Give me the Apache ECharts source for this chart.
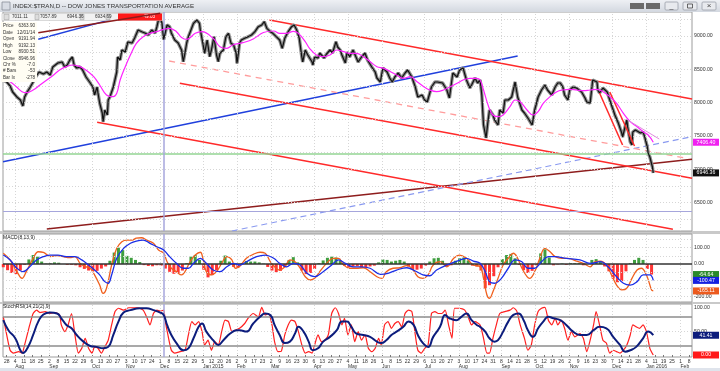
<!DOCTYPE html>
<html><head><meta charset="utf-8">
<script src="https://cdn.jsdelivr.net/npm/echarts@6/dist/echarts.min.js"></script>
<style>html,body{margin:0;padding:0;background:#fff}#c{width:720px;height:371px}</style>
</head><body><div id="c"></div>
<script>
// ---------- tick labels (x in weeks from Mon 28 Jul 2014) ----------
const weekLabels = ['28','4','11','18','25','2','8','15','22','29','6','13','20','27','3','10','17','24','1','8','15','22','29','5','12','20','26','2','9','17','23','2','9','16','23','30','6','13','20','27','4','11','18','26','1','8','15','22','29','6','13','20','27','3','10','17','24','31','8','14','21','28','5','12','19','26','2','9','16','23','30','7','14','21','28','4','11','19','25','1','8'];
const monthWeeks = [1,5,10,14,18,23,27,31,36,40,44,49,53,58,62,66,71,75,79];
const monthNames = ['Aug','Sep','Oct','Nov','Dec','Jan 2015','Feb','Mar','Apr','May','Jun','Jul','Aug','Sep','Oct','Nov','Dec','Jan 2016','Feb'];
const priceTicks = [6500,7000,7500,8000,8500,9000];
const priceGridLevels = [6250,6500,6750,7000,7250,7500,7750,8000,8250,8500,8750,9000,9250];
const macdTicks = [100,0,-100,-200];
const macdGridLevels = [150,100,50,-50,-100,-150,-200];
const stochTicks = [100,50,0];

// ---------- price (week, value) ----------
const price2014 = [[-0.4,8340],[-0.2,8370],[0.0,8310],[0.4,8250],[0.7,8160],[1.2,8085],[1.6,8040],[1.9,7950],[2.1,8085],[2.4,8160],[2.7,8220],[3.1,8310],[3.3,8370],[3.8,8460],[4.3,8430],[4.7,8460],[5.1,8415],[5.4,8535],[5.7,8565],[6.0,8595],[6.5,8610],[6.8,8535],[7.1,8565],[7.4,8640],[7.7,8685],[7.9,8565],[8.2,8520],[8.6,8535],[8.9,8490],[9.3,8385],[9.5,8415],[9.8,8295],[10.1,8235],[10.3,8115],[10.6,8235],[10.7,8145],[10.9,7995],[11.2,7845],[11.3,7715],[11.5,7890],[11.8,7815],[11.9,8040],[12.1,8085],[12.5,8235],[12.9,8460],[13.0,8685],[13.3,8640],[13.5,8790],[13.9,8760],[14.2,8910],[14.7,8895],[15.0,8970],[15.4,9090],[15.9,9060],[16.2,9045],[16.6,9015],[17.0,9090],[17.4,9045],[17.6,9135],[17.9,9300],[18.2,9195],[18.4,8947],[18.8,9165],[19.1,9140],[19.3,9045],[19.7,8940],[20.1,8895],[20.5,8790],[20.7,8615],[20.9,8745],[21.1,8895],[21.3,8990],[21.6,9090],[21.9,9190],[22.3,9240],[22.6,9190]];
const price2015a = [[22.7,9090],[23.0,8890],[23.2,8740],[23.5,8940],[23.8,8690],[24.0,8790],[24.3,8990],[24.6,8715],[24.8,8615],[25.0,8740],[25.4,8790],[25.7,8990],[26.0,9040],[26.3,8890],[26.6,8865],[26.9,8740],[27.0,8590],[27.3,8890],[27.5,8940],[27.9,8965],[28.3,8990],[28.7,9015],[29.1,9065],[29.5,9140],[29.9,9165],[30.2,9215],[30.5,9115],[30.9,9065],[31.2,9040],[31.6,8990],[32.0,8940],[32.3,8815],[32.6,8965],[33.0,9065],[33.4,9140],[33.7,9165],[34.0,9090],[34.3,8965],[34.6,8685],[34.7,8610],[35.0,8790],[35.3,8715],[35.8,8610],[35.9,8565],[36.1,8685],[36.5,8670],[36.7,8745],[37.2,8670],[37.5,8730],[37.9,8790],[38.2,8745],[38.6,8915],[38.8,8835],[39.1,8790],[39.3,8715],[39.7,8595],[39.9,8760],[40.2,8685],[40.6,8790],[40.8,8790],[41.2,8610],[41.6,8685],[42.0,8745],[42.3,8640],[42.8,8535],[43.2,8460],[43.4,8370],[43.8,8310],[44.1,8520],[44.6,8460],[44.9,8370],[45.2,8310],[45.5,8385],[45.9,8445],[46.3,8370],[46.7,8445],[47.0,8490],[47.5,8385],[47.9,8235],[48.2,8085],[48.7,8115],[49.0,8040],[49.3,8010],[49.4,7995],[49.8,8235],[50.2,8310],[50.5,8310],[51.1,8295],[51.6,8190],[51.9,8070],[52.3,8445],[52.8,8385],[53.1,8490],[53.5,8520],[53.9,8340],[54.3,8220],[54.5,8265],[54.9,8370],[55.2,8295],[55.5,8340]];
const price2015b = [[55.7,8115],[55.9,7665],[56.2,7470],[56.4,7695],[56.6,7890],[57.0,7815],[57.2,7740],[57.6,7665],[57.8,7890],[58.2,7845],[58.4,8040],[58.8,8040],[59.2,8085],[59.6,8310],[59.9,8085],[60.4,7890],[60.7,7845],[61.1,7770],[61.6,7665],[61.9,7890],[62.3,8085],[62.7,8190],[63.1,8265],[63.4,8190],[63.9,8115],[64.3,8235],[64.6,8295],[64.9,8295],[65.2,8235],[65.4,8115],[65.8,8040],[66.0,8190],[66.4,8235],[66.8,8220],[67.4,8160],[67.8,8070],[68.0,8010],[68.4,7995],[68.7,8340],[69.2,8310],[69.3,8190],[69.5,8145],[69.9,8220],[70.4,8160],[70.7,8040],[71.1,7890],[71.3,7815],[71.7,7695],[72.1,7545],[72.2,7485],[72.7,7740],[72.8,7635],[73.1,7410],[73.3,7365],[73.4,7560],[73.7,7590],[73.9,7620],[74.3,7545],[74.6,7560],[74.8,7485],[75.1,7335],[75.2,7245],[75.4,7185],[75.7,7035],[75.8,6946.36]];
const movingAvg = [[-0.4,8350],[0.4,8315],[1.2,8230],[1.8,8165],[2.3,8150],[3.1,8190],[3.9,8265],[4.7,8340],[5.5,8415],[6.2,8490],[7.0,8540],[7.8,8565],[8.6,8540],[9.4,8480],[10.2,8390],[10.9,8265],[11.7,8115],[12.5,8090],[12.9,8140],[13.3,8340],[13.9,8540],[14.5,8715],[15.2,8890],[16.0,8990],[16.8,9040],[17.6,9065],[18.4,9100],[19.1,9115],[19.9,9065],[20.5,8978],[21.1,8948],[22.1,9040],[22.9,9065],[24.2,8965],[25.0,8840],[25.8,8815],[26.5,8865],[27.7,8900],[28.9,8955],[30.1,9052],[31.3,9075],[32.0,9040],[32.8,9040],[33.6,9068],[34.2,9040],[35.0,8915],[35.5,8815],[36.3,8715],[37.1,8690],[37.9,8715],[38.7,8790],[39.5,8765],[40.2,8740],[41.0,8740],[41.8,8690],[42.6,8615],[43.4,8540],[44.2,8515],[45.0,8465],[45.7,8415],[46.5,8365],[47.3,8390],[48.1,8315],[48.9,8240],[49.6,8190],[50.4,8165],[51.2,8190],[52.0,8240],[52.8,8290],[53.5,8340],[54.3,8365],[55.1,8365],[55.5,8340],[55.9,8190],[56.5,7940],[57.0,7815],[57.6,7790],[58.2,7815],[59.0,7940],[59.6,8040],[60.2,8015],[61.0,7890],[61.7,7815],[62.3,7865],[62.9,7990],[63.7,8090],[64.5,8165],[65.2,8190],[66.0,8200],[66.8,8190],[67.6,8180],[68.4,8190],[69.2,8200],[69.9,8165],[70.7,8090],[71.5,7990],[72.3,7840],[73.1,7715],[73.9,7640],[74.6,7565],[75.2,7515],[75.8,7406.40]];

// ---------- trend lines drawn on the chart (week, price) ----------
const lineRedTop = [[30.8,9240],[80.34,8055]];
const lineRedMid = [[20.3,8290],[80.34,6865]];
const lineRedLow = [[10.6,7705],[78.1,6100]];
const lineRedDash = [[19.05,8625],[79.7,7165]];
const lineRedShortA = [[69.5,8145],[72.2,7365]];
const lineRedShortB = [[70.7,8160],[73.6,7350]];
const linePink = [[72.8,7740],[76.5,7455]];
const lineBlue = [[-0.434,7115],[59.9,8700]];
const lineBlueDash = [[26.4,6075],[80.34,7490]];
const lineBrown = [[4.7,6105],[80.34,7150]];
const lineBrownTop = [[3.7,9050],[18.0,9340]];
const lineBlueTop = [[3.7,8950],[12.3,9249]];
const levelGreen = 7230;
const cursorPrice = 6363.90;
const cursorWeek = 18.4;

// ---------- MACD(8,13,9) ----------
const macdLine = [[-0.4,66],[0.4,25],[1.2,-47],[1.8,-88],[2.3,-47],[3.1,35],[3.7,75],[4.3,72],[5.1,45],[5.9,51],[6.6,45],[7.4,39],[8.0,45],[8.6,4],[9.2,-16],[9.8,-26],[10.3,-67],[10.9,-129],[11.3,-180],[11.7,-149],[12.3,-6],[12.9,96],[13.5,137],[14.1,147],[14.7,147],[15.2,158],[15.8,161],[16.4,147],[17.2,127],[17.8,86],[18.4,66],[18.8,14],[19.3,-26],[19.9,-47],[20.5,-67],[20.9,-47],[21.5,14],[22.1,55],[22.7,72],[23.0,35],[23.4,-47],[24.0,-67],[24.6,-47],[25.2,4],[25.8,45],[26.4,25],[26.8,-26],[27.3,-15],[28.1,35],[28.9,59],[29.7,72],[30.3,66],[30.9,14],[31.4,-17],[32.0,-37],[32.6,-17],[33.2,25],[33.8,14],[34.4,-26],[35.0,-78],[35.6,-98],[36.1,-88],[36.7,-47],[37.5,4],[38.3,35],[38.9,35],[39.5,-6],[40.2,-26],[41.0,-26],[41.8,-23],[42.6,-47],[43.4,-78],[44.0,-88],[44.5,-47],[45.3,-26],[46.1,-23],[46.9,-10],[47.5,-26],[48.2,-78],[48.8,-88],[49.4,-67],[50.0,-6],[50.8,14],[51.6,-17],[52.4,35],[53.1,55],[53.9,35],[54.7,-6],[55.5,-17],[55.9,-88],[56.3,-190],[56.6,-210],[57.0,-170],[57.6,-88],[58.2,-6],[58.8,35],[59.4,66],[59.8,45],[60.4,-26],[61.0,-78],[61.3,-88],[61.9,-47],[62.5,35],[63.1,96],[63.7,75],[64.3,45],[65.1,35],[65.8,35],[66.8,18],[67.6,4],[68.4,-17],[69.0,14],[69.6,18],[70.3,-6],[70.9,-67],[71.5,-129],[72.1,-159],[72.7,-149],[73.3,-88],[73.9,-37],[74.4,-26],[75.0,-67],[75.6,-159],[75.8,-165.11]];
const signalLine = [[-0.4,55],[0.4,25],[1.2,-26],[1.9,-47],[2.7,-17],[3.5,25],[4.3,45],[5.1,55],[6.0,55],[7.0,45],[8.0,45],[8.8,25],[9.6,-6],[10.3,-37],[10.9,-67],[11.5,-108],[11.9,-118],[12.3,-67],[12.9,35],[13.7,96],[14.5,127],[15.2,141],[16.0,147],[16.8,127],[17.6,106],[18.4,86],[19.1,45],[19.9,4],[20.7,-26],[21.3,-26],[21.9,4],[22.7,35],[23.4,4],[24.2,-37],[25.0,-47],[25.8,-17],[26.6,4],[27.3,-6],[28.1,14],[29.3,45],[30.3,55],[31.3,35],[32.0,4],[32.8,-17],[33.6,4],[34.4,-6],[35.2,-57],[36.1,-78],[37.1,-47],[38.1,-6],[38.9,25],[39.7,4],[40.6,-17],[41.6,-17],[42.6,-26],[43.8,-63],[44.7,-57],[45.7,-37],[46.9,-23],[47.9,-43],[48.8,-67],[49.6,-72],[50.4,-37],[51.6,-6],[52.8,18],[53.9,35],[54.7,18],[55.5,4],[56.1,-47],[56.6,-108],[57.2,-118],[58.0,-88],[58.8,-26],[59.6,25],[60.4,14],[61.1,-26],[61.9,-26],[62.7,14],[63.5,45],[64.3,45],[65.6,35],[67.2,25],[68.4,4],[69.6,14],[70.5,-17],[71.5,-78],[72.3,-118],[73.1,-129],[73.9,-108],[74.6,-67],[75.4,-67],[75.8,-100.47]];
// histogram sampled every half week starting at week -0.4
const histStart = -0.4, histStep = 0.5;
const macdHist = [-20,-38,-55,-62,-40,-5,28,55,45,15, 3,5,10,8,0,-5,-5,-8,-20,-30, -40,-45,-42,-28,-15,20,70,100,85,50, 38,25,12,-7,-12,-14,-8,-10,-28,-48, -60,-55,-40,5,45,55,25,-35,-82,-68, -38,20,52,15,-18,-22,5,18,15,15, 10,2,-18,-40,-50,-42,-20,25,42,10, -40,-62,-55,-30,5,22,38,45,40,20, -10,-20,-15,-12,-22,-22,-15,-10,10,28, 25,15,20,25,15,-15,-32,-35,-28,-10, 15,35,38,20,-15,-8,20,35,40,22, -10,-15,-40,-150,-130,-75,-20,30,55,62, 35,-5,-38,-55,-42,-5,65,90,40,-8, -3,3,-5,5,5,5,-8,0,25,30, 12,-15,-45,-90,-112,-105,-45,5,25,38, 25,-30,-64.64];

// ---------- StochRSI(14,21(2),9) ----------
const stochK = [[-0.4,80],[0.0,42],[0.4,10],[0.8,4],[1.4,7],[1.8,4],[2.1,21],[2.7,63],[3.1,87],[3.5,94],[3.9,89],[4.5,91],[5.1,87],[5.7,89],[6.2,84],[6.4,63],[6.8,49],[7.2,63],[7.6,87],[8.0,42],[8.4,4],[8.8,14],[9.2,35],[9.6,14],[10.0,4],[10.3,17],[10.7,14],[11.1,4],[11.5,17],[11.9,31],[12.3,63],[12.7,91],[13.1,98],[13.7,94],[14.3,99],[14.8,99],[15.4,99],[16.0,94],[16.4,80],[16.8,63],[17.2,87],[17.6,94],[18.0,92],[18.4,94],[18.6,70],[18.9,42],[19.3,10],[19.7,4],[20.3,7],[20.9,10],[21.3,42],[21.7,70],[22.1,63],[22.5,70],[22.9,49],[23.2,21],[23.6,31],[24.0,10],[24.4,28],[24.8,21],[25.2,49],[25.6,73],[26.0,70],[26.4,49],[26.8,52],[27.3,56],[27.9,66],[28.3,77],[28.9,87],[29.5,80],[29.9,100],[30.3,84],[30.7,87],[31.1,63],[31.4,28],[31.8,7],[32.2,8],[32.6,42],[33.0,63],[33.4,73],[33.8,70],[34.2,49],[34.6,21],[35.0,4],[35.4,7],[35.8,4],[36.1,21],[36.5,42],[36.9,28],[37.3,31],[37.7,42],[38.1,87],[38.5,99],[38.9,87],[39.3,63],[39.6,77],[40.0,42],[40.4,63],[40.8,28],[41.2,49],[41.6,31],[42.0,42],[42.4,14],[42.8,7],[43.2,14],[43.6,35],[43.9,21],[44.3,63],[44.7,70],[45.1,56],[45.5,66],[45.9,70],[46.3,59],[46.7,87],[47.1,94],[47.5,91],[47.9,42],[48.2,10],[48.6,4],[49.0,14],[49.4,21],[49.8,87],[50.2,91],[50.6,87],[51.0,87],[51.4,94],[51.8,63],[52.2,35],[52.5,98],[53.1,98],[53.7,94],[54.1,80],[54.5,63],[54.9,70],[55.5,63],[55.9,35],[56.3,4],[56.6,4],[57.0,35],[57.4,63],[57.8,87],[58.4,91],[59.0,94],[59.4,99],[59.8,92],[60.2,63],[60.7,35],[61.1,10],[61.5,21],[61.9,63],[62.3,91],[62.7,98],[63.1,100],[63.5,73],[63.9,63],[64.3,77],[64.6,63],[65.0,73],[65.4,56],[65.8,31],[66.2,49],[66.6,38],[67.2,45],[67.6,35],[68.0,7],[68.4,31],[68.8,63],[69.1,91],[69.5,63],[69.9,31],[70.3,25],[70.7,4],[71.1,10],[71.5,7],[71.9,4],[72.3,10],[72.7,21],[73.1,42],[73.4,63],[73.8,59],[74.2,56],[74.6,63],[75.0,49],[75.4,14],[75.8,0]];
const stochD = [[-0.4,73],[0.2,52],[1.0,35],[1.6,10],[1.9,4],[2.5,17],[3.1,42],[3.7,70],[4.3,85],[5.1,89],[5.9,87],[6.4,77],[7.0,63],[7.6,56],[8.2,42],[9.0,28],[9.8,19],[10.5,17],[11.3,14],[11.9,17],[12.5,42],[13.1,70],[13.7,89],[14.5,94],[15.6,98],[16.4,98],[17.2,94],[18.0,89],[18.4,84],[18.8,63],[19.3,42],[19.9,25],[20.7,10],[21.3,14],[21.9,35],[22.5,59],[22.9,66],[23.4,49],[24.2,31],[24.8,21],[25.4,31],[26.2,45],[27.0,52],[27.3,52],[28.1,49],[28.9,66],[29.7,80],[30.3,87],[30.9,84],[31.4,63],[32.0,42],[32.6,25],[33.2,28],[33.8,45],[34.2,59],[34.8,49],[35.4,28],[35.9,10],[36.5,14],[37.1,28],[37.9,38],[38.7,52],[39.3,70],[39.9,70],[40.4,59],[41.0,45],[41.8,42],[42.6,38],[43.4,28],[43.9,25],[44.5,31],[45.1,42],[45.7,49],[46.5,59],[47.1,70],[47.7,63],[48.2,42],[48.8,25],[49.4,17],[50.0,38],[50.8,59],[51.4,84],[51.9,77],[52.7,73],[53.3,80],[53.9,87],[54.5,73],[55.1,63],[55.5,59],[56.1,49],[56.6,35],[57.2,28],[57.6,31],[58.2,49],[58.8,70],[59.4,84],[60.0,87],[60.6,73],[61.1,52],[61.7,38],[62.3,56],[62.9,70],[63.5,80],[64.1,77],[64.9,73],[65.6,63],[66.4,49],[67.2,42],[68.0,42],[68.8,52],[69.5,59],[70.3,56],[71.1,38],[71.9,21],[72.5,7],[73.1,10],[73.8,17],[74.6,35],[75.2,49],[75.8,41.41]];

// ---------- text ----------
const titleText = 'INDEX:$TRAN,D -- DOW JONES TRANSPORTATION AVERAGE';
const infoLabels = ['Price','Date','Open','High','Low','Close','Chr %','# Bars','Bar Ix'];
const infoValues = ['6363.90','12/01/14','9191.94','9192.13','8930.51','8946.96','-7.0','-53','-278'];
const toolbarValues = ['7011.11','7057.89','6946.36','6934.69'];
const toolbarChange = '-49.03';

// ================= chart =================
const FONT = 'Liberation Sans, Arial, sans-serif';
const X_MIN = -0.434, X_MAX = 80.34;
const chart = echarts.init(document.getElementById('c'), null, {renderer:'canvas'});

function xAx(gi, extra) {
  return Object.assign({type:'value', gridIndex:gi, min:X_MIN, max:X_MAX, position:'bottom',
    axisLine:{show:false}, axisTick:{show:false}, splitLine:{show:false}, axisLabel:{show:false}}, extra||{});
}
function yAx(gi, min, max, ticks) {
  return {type:'value', gridIndex:gi, min:min, max:max, position:'right',
    axisLine:{show:false}, axisTick:{show:false}, splitLine:{show:false},
    axisLabel:{show:true, customValues:ticks, formatter:v=>Number(v).toFixed(2), fontSize:5.2, color:'#333', margin:2, fontFamily:FONT}};
}
function seg(pts, xi, color, width, type, z) {
  return {type:'line', xAxisIndex:xi, yAxisIndex:xi, data:pts, symbol:'none', silent:true, z:z||3,
    lineStyle:{color:color, width:width, type:type||'solid'}};
}
function guide(xi, items, z) {
  return {type:'line', xAxisIndex:xi, yAxisIndex:xi, data:[], silent:true, z:z,
    markLine:{silent:true, symbol:['none','none'], animation:false, label:{show:false}, data:items}};
}
const dotted = {color:'#d6d6d6', width:1, type:[1,2]};
function vGrid() { return monthWeeks.map(w=>({xAxis:w, lineStyle:dotted})); }
function boxes(xi, items) {
  return {type:'line', xAxisIndex:xi, yAxisIndex:xi, data:[], silent:true, z:20,
    markPoint:{animation:false, silent:true, data:items.map(it=>({
      coord:[X_MAX, it[0]], name:it[1], symbol:'rect', symbolSize:[26,7], symbolOffset:[14,0],
      itemStyle:{color:it[2]},
      label:{show:true, position:'inside', formatter:'{b}', color:'#fff', fontSize:5.2, fontFamily:FONT}}))}};
}
const cursorStyle = {color:'#a6a6dc', width:1.5, type:'solid'};

const histData = macdHist.map((v,i)=>[histStart + histStep*i, v]);

const small = 4.6;
const graphic = [
  {type:'rect', shape:{x:0,y:0,width:720,height:12}, z:100,
    style:{fill:new echarts.graphic.LinearGradient(0,0,0,1,[{offset:0,color:'#eef0f4'},{offset:1,color:'#d3d8e0'}])}},
  {type:'rect', shape:{x:2,y:2,width:8,height:8}, z:101, style:{fill:'#d8dce4', stroke:'#8a8f99', lineWidth:0.8}},
  {type:'text', x:13, y:6.5, z:101, style:{text:titleText, fontSize:6.2, fill:'#333', fontFamily:FONT, verticalAlign:'middle'}},
  {type:'rect', shape:{x:630,y:3,width:14,height:6}, z:101, style:{fill:'#6a6a6a'}},
  {type:'rect', shape:{x:646,y:3,width:14,height:6}, z:101, style:{fill:'#6a6a6a'}},
  {type:'rect', shape:{x:665,y:2,width:13,height:8,r:1}, z:101, style:{fill:'#e8eaee', stroke:'#9aa0a8', lineWidth:0.8}},
  {type:'rect', shape:{x:683,y:2,width:14,height:8,r:1}, z:101, style:{fill:'#e8eaee', stroke:'#9aa0a8', lineWidth:0.8}},
  {type:'rect', shape:{x:702,y:2,width:14,height:8,r:1}, z:101, style:{fill:'#e8eaee', stroke:'#9aa0a8', lineWidth:0.8}},
  {type:'text', x:671.5, y:6, z:102, style:{text:'_', fontSize:7, fill:'#444', align:'center', verticalAlign:'middle', fontFamily:FONT}},
  {type:'rect', shape:{x:687.5,y:4,width:5,height:4}, z:102, style:{fill:'none', stroke:'#444', lineWidth:0.8}},
  {type:'text', x:709, y:6, z:102, style:{text:'×', fontSize:8, fill:'#444', align:'center', verticalAlign:'middle', fontFamily:FONT}},
  // panel separators and bottom strip
  {type:'rect', shape:{x:0,y:231,width:720,height:3}, z:-1, style:{fill:'#c9c9c9'}},
  {type:'rect', shape:{x:0,y:302,width:720,height:2}, z:-1, style:{fill:'#c9c9c9'}},
  {type:'rect', shape:{x:0,y:368,width:720,height:3}, z:-1, style:{fill:'#dfe4ec'}},
  // toolbar
  {type:'rect', shape:{x:2,y:13.5,width:161,height:7}, z:100, style:{fill:'#f2f2f2', stroke:'#c4c4c4', lineWidth:0.6}},
  {type:'rect', shape:{x:4,y:14.3,width:5,height:5.4}, z:101, style:{fill:'#ddd', stroke:'#999', lineWidth:0.5}},
  {type:'rect', shape:{x:35,y:14.3,width:4,height:5.4}, z:101, style:{fill:'#ddd', stroke:'#999', lineWidth:0.5}},
  {type:'rect', shape:{x:80,y:14.3,width:4,height:5.4}, z:101, style:{fill:'#ddd', stroke:'#999', lineWidth:0.5}},
  {type:'rect', shape:{x:106,y:14.3,width:4,height:5.4}, z:101, style:{fill:'#ddd', stroke:'#999', lineWidth:0.5}},
  {type:'rect', shape:{x:118,y:13.5,width:44,height:7}, z:101, style:{fill:'#ff1a1a'}},
  {type:'text', x:155, y:17.2, z:102, style:{text:toolbarChange, fontSize:small, fill:'#fff', align:'right', verticalAlign:'middle', fontFamily:FONT}},
  // info box
  {type:'rect', shape:{x:1,y:22,width:36,height:60}, z:100, style:{fill:'#fffdf3'}},
  // panel titles
  {type:'text', x:3, y:237.5, z:100, style:{text:'MACD(8,13,9)', fontSize:5, fill:'#222', verticalAlign:'middle', fontFamily:FONT}},
  {type:'text', x:3, y:307, z:100, style:{text:'StochRSI(14,21(2),9)', fontSize:5, fill:'#222', verticalAlign:'middle', fontFamily:FONT}}
];
const tbX = [12, 40, 67, 95];
toolbarValues.forEach((t,i)=>graphic.push({type:'text', x:tbX[i], y:17.2, z:102,
  style:{text:t, fontSize:small, fill:'#333', verticalAlign:'middle', fontFamily:FONT}}));
infoLabels.forEach((t,i)=>{
  graphic.push({type:'text', x:3, y:26+6.45*i, z:101, style:{text:t, fontSize:small, fill:'#333', verticalAlign:'middle', fontFamily:FONT}});
  graphic.push({type:'text', x:35, y:26+6.45*i, z:101, style:{text:infoValues[i], fontSize:small, fill:'#333', align:'right', verticalAlign:'middle', fontFamily:FONT}});
});

const gridBase = {left:3, right:28, show:true, borderColor:'#9c9c9c', borderWidth:1, backgroundColor:'#fff', containLabel:false, outerBoundsMode:'none'};

const option = {
  animation:false,
  backgroundColor:'#fff',
  textStyle:{fontFamily:FONT},
  graphic: graphic,
  grid:[
    Object.assign({top:12, height:219}, gridBase),
    Object.assign({top:234, height:68}, gridBase),
    Object.assign({top:304, height:53}, gridBase)
  ],
  xAxis:[
    xAx(0), xAx(1),
    xAx(2, {axisTick:{show:true, customValues:weekLabels.map((_,i)=>i), length:2, lineStyle:{color:'#777', width:1}},
      axisLabel:{show:true, customValues:weekLabels.map((_,i)=>i),
      formatter:v=>weekLabels[Math.round(v)], fontSize:5, color:'#333', margin:2, fontFamily:FONT}}),
    xAx(2, {axisLabel:{show:true, customValues:monthWeeks,
      formatter:v=>monthNames[monthWeeks.indexOf(Math.round(v))], fontSize:5, color:'#333', margin:7, align:'left', fontFamily:FONT}})
  ],
  yAxis:[
    yAx(0, 6075, 9360, priceTicks),
    yAx(1, -233, 184, macdTicks),
    yAx(2, -4.2, 106.9, stochTicks)
  ],
  series:[
    // ---- price panel ----
    guide(0, priceGridLevels.map(v=>({yAxis:v, lineStyle:dotted})).concat(vGrid()), 1),
    guide(0, [{yAxis:levelGreen, lineStyle:{color:'#93d493', width:1.5, type:'solid'}}], 2),
    seg(lineBrown, 0, '#8e1d1d', 1.5),
    seg(lineBlueDash, 0, '#8a9af0', 1.2, [6,4]),
    seg(lineBlue, 0, '#2040dd', 1.5),
    seg(lineRedDash, 0, '#ff9c9c', 1.3, [6,5]),
    seg(lineRedTop, 0, '#ff2a2a', 1.5),
    seg(lineRedMid, 0, '#ff2a2a', 1.5),
    seg(lineRedLow, 0, '#ff2a2a', 1.5),
    seg(lineRedShortA, 0, '#ff2a2a', 1.5, 'solid', 6),
    seg(lineRedShortB, 0, '#ff2a2a', 1.5, 'solid', 6),
    seg(lineBlueTop, 0, '#2040dd', 1.5),
    seg(lineBrownTop, 0, '#8e1d1d', 1.5, 'solid', 150),
    guide(0, [{yAxis:cursorPrice, lineStyle:{color:'#a6a6dc', width:1.2, type:'solid'}},
              {xAxis:cursorWeek, lineStyle:cursorStyle}], 3),
    {type:'line', xAxisIndex:0, yAxisIndex:0, data:price2014.concat(price2015a, price2015b), symbol:'none', silent:true, z:4,
      lineStyle:{color:'#8c8c8c', width:3.4}},
    {type:'line', xAxisIndex:0, yAxisIndex:0, data:price2014.concat(price2015a, price2015b), symbol:'none', silent:true, z:5,
      lineStyle:{color:'#111', width:1.2}},
    {type:'line', xAxisIndex:0, yAxisIndex:0, data:movingAvg, symbol:'none', silent:true, smooth:0.4, z:6,
      lineStyle:{color:'#ff22ff', width:1.2}},
    seg(linePink, 0, '#e08ce0', 1, 'solid', 7),
    boxes(0, [[7406.40,'7406.40','#f020f0'],[6946.36,'6946.36','#111']]),

    // ---- MACD panel ----
    guide(1, macdGridLevels.map(v=>({yAxis:v, lineStyle:dotted})).concat(vGrid()), 1),
    {type:'bar', xAxisIndex:1, yAxisIndex:1, data:histData, barWidth:3, silent:true, z:2,
      itemStyle:{color:p=>p.value[1]>=0?'#3f9e3f':'#ff3434'}},
    guide(1, [{yAxis:0, lineStyle:{color:'#333', width:1.5, type:'solid'}},
              {xAxis:cursorWeek, lineStyle:cursorStyle}], 3),
    {type:'line', xAxisIndex:1, yAxisIndex:1, data:macdLine, symbol:'none', silent:true, smooth:0.4, z:4,
      lineStyle:{color:'#f0601e', width:1.3}},
    {type:'line', xAxisIndex:1, yAxisIndex:1, data:signalLine, symbol:'none', silent:true, smooth:0.4, z:5,
      lineStyle:{color:'#1a2ee6', width:1.3}},
    boxes(1, [[-64.64,'-64.64','#2a8a2a'],[-100.47,'-100.47','#1420e0'],[-165.11,'-165.11','#ec5a1e']]),

    // ---- StochRSI panel ----
    guide(2, [{yAxis:50, lineStyle:dotted}].concat(vGrid()), 1),
    guide(2, [{yAxis:80, lineStyle:{color:'#8c8c8c', width:1.5, type:'solid'}},
              {yAxis:20, lineStyle:{color:'#8c8c8c', width:1.5, type:'solid'}},
              {xAxis:cursorWeek, lineStyle:cursorStyle}], 2),
    {type:'line', xAxisIndex:2, yAxisIndex:2, data:stochK, symbol:'none', silent:true, smooth:0.2, z:4,
      lineStyle:{color:'#ff2020', width:1.2}},
    {type:'line', xAxisIndex:2, yAxisIndex:2, data:stochD, symbol:'none', silent:true, smooth:0.5, z:5,
      lineStyle:{color:'#0c1c7c', width:2}},
    boxes(2, [[41.41,'41.41','#0c1c7c'],[0,'0.00','#ff1a1a']])
  ]
};
chart.setOption(option);
</script>
</body></html>
